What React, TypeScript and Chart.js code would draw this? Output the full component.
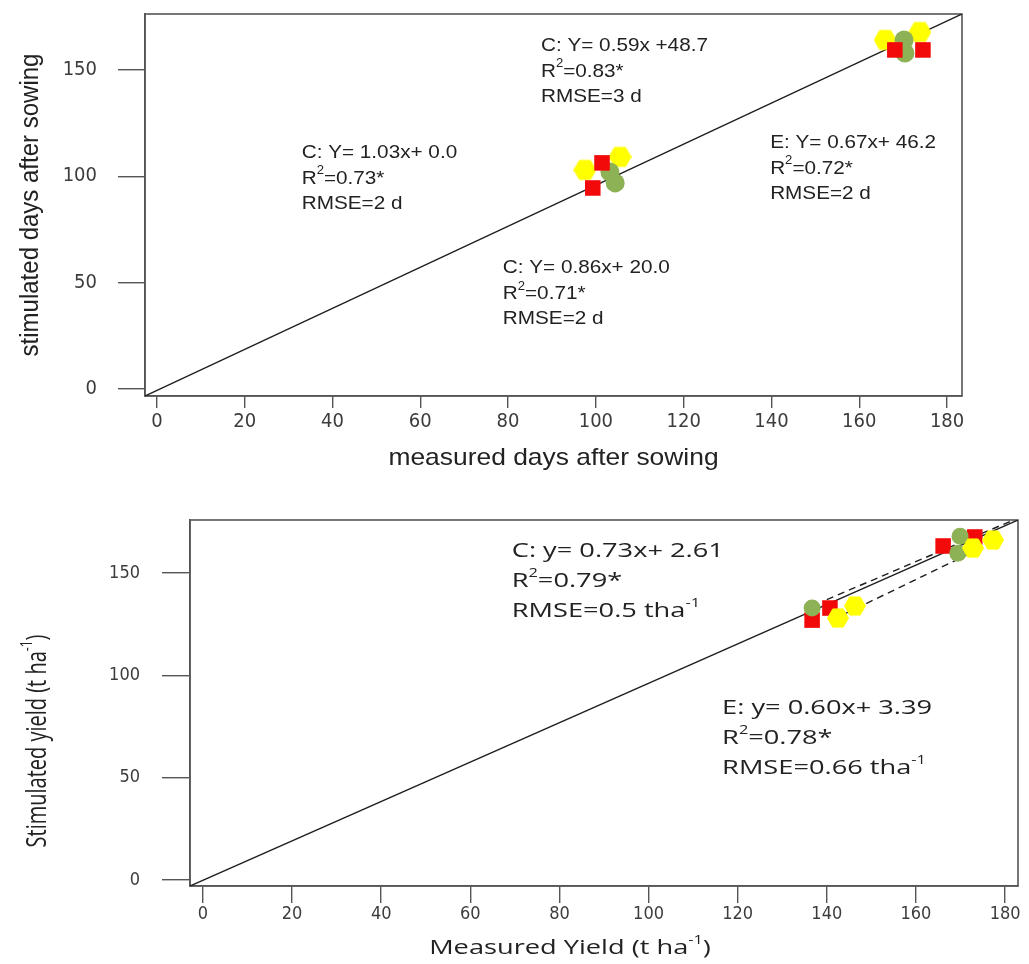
import React, { useEffect, useRef } from "react";
import { Chart, registerables } from "chart.js";

Chart.register(...registerables);

// ================= Panel A: phenology (days after sowing) =================
const daysTicksX = [0, 20, 40, 60, 80, 100, 120, 140, 160, 180];
const daysTicksY = [0, 50, 100, 150];
const daysXLimits = [-2.7, 183.4];
const daysYLimits = [-3.3, 176.3];
const daysRedX = [101.4, 99.3, 168.1, 174.5];
const daysRedY = [106.3, 94.5, 159.4, 159.4];
const daysGreenX = [103.2, 104.4, 170.2, 170.4];
const daysGreenY = [102.0, 96.9, 164.1, 158.0];
const daysYellowX = [97.5, 105.5, 165.9, 173.8];
const daysYellowY = [103.0, 109.1, 164.1, 167.8];
const daysLineX = [-2.7, 183.4];
const daysLineY = [-3.3, 176.3];
const daysNoteX = [87.5, 33.0, 139.7, 78.8];
const daysNoteY = [161.3, 111.0, 115.7, 56.9];
const daysNotes = [
  ["C: Y= 0.59x +48.7", "R^{2}=0.83*", "RMSE=3 d"],
  ["C: Y= 1.03x+ 0.0", "R^{2}=0.73*", "RMSE=2 d"],
  ["E: Y= 0.67x+ 46.2", "R^{2}=0.72*", "RMSE=2 d"],
  ["C: Y= 0.86x+ 20.0", "R^{2}=0.71*", "RMSE=2 d"],
];
const daysXTitle = "measured days after sowing";
const daysYTitle = "stimulated days after sowing";

// ================= Panel B: yield =================
const yieldTicksX = [0, 20, 40, 60, 80, 100, 120, 140, 160, 180];
const yieldTicksY = [0, 50, 100, 150];
const yieldXLimits = [-2.9, 182.9];
const yieldYLimits = [-2.9, 175.9];
const yieldRedX = [136.7, 140.7, 166.1, 173.2];
const yieldRedY = [127.0, 132.9, 163.2, 167.6];
const yieldGreenX = [136.7, 169.9, 169.4];
const yieldGreenY = [132.9, 168.0, 159.7];
const yieldYellowX = [142.5, 146.3, 172.8, 177.3];
const yieldYellowY = [128.0, 133.9, 162.2, 166.1];
const yieldLineX = [-2.9, 182.9];
const yieldLineY = [-2.9, 175.9];
const yieldDashUpperX = [140, 182];
const yieldDashUpperY = [137, 176];
const yieldDashLowerX = [144, 173];
const yieldDashLowerY = [130, 160.5];
const yieldNoteX = [69.3, 116.5];
const yieldNoteY = [160.7, 84.0];
const yieldNotes = [
  ["C: y= 0.73x+ 2.61", "R^{2}=0.79*", "RMSE=0.5 tha^{-1}"],
  ["E: y= 0.60x+ 3.39", "R^{2}=0.78*", "RMSE=0.66 tha^{-1}"],
];
const yieldXTitle = "Measured Yield (t ha^{-1})";
const yieldYTitle = "Stimulated yield (t ha^{-1})";

// ================= helpers =================
const RED = "#f20a0a";
const GREEN = "#8db256";
const YELLOW = "#ffff00";
const AXIS = "#555555";
const NARROW = "'Liberation Sans Narrow', 'DejaVu Sans Condensed', 'Liberation Sans', sans-serif";

type Seg = { t: string; sup: boolean };
function parseRich(s: string): Seg[] {
  const out: Seg[] = [];
  const re = /\^\{([^}]*)\}/g;
  let last = 0;
  let m: RegExpExecArray | null;
  while ((m = re.exec(s))) {
    if (m.index > last) out.push({ t: s.slice(last, m.index), sup: false });
    out.push({ t: m[1], sup: true });
    last = re.lastIndex;
  }
  if (last < s.length) out.push({ t: s.slice(last), sup: false });
  return out;
}

function drawRich(
  ctx: CanvasRenderingContext2D,
  text: string,
  x: number,
  y: number,
  family: string,
  size: number,
  stretch: number,
  align: "left" | "center",
  rotate: boolean,
  color: string
) {
  const segs = parseRich(text);
  const supSize = Math.round(size * 0.62);
  const fontOf = (s: Seg) => `${s.sup ? supSize : size}px ${family}`;
  let w = 0;
  for (const s of segs) {
    ctx.font = fontOf(s);
    w += ctx.measureText(s.t).width;
  }
  ctx.save();
  ctx.translate(x, y);
  if (rotate) {
    ctx.rotate(-Math.PI / 2);
    ctx.scale(1, stretch);
  } else {
    ctx.scale(stretch, 1);
  }
  ctx.fillStyle = color;
  ctx.textBaseline = "middle";
  ctx.textAlign = "left";
  let cx = align === "center" ? -w / 2 : 0;
  for (const s of segs) {
    ctx.font = fontOf(s);
    ctx.fillText(s.t, cx, s.sup ? -size * 0.38 : 0);
    cx += ctx.measureText(s.t).width;
  }
  ctx.restore();
}

function hexagon(size: number, color: string) {
  const c = document.createElement("canvas");
  c.width = size;
  c.height = size;
  const g = c.getContext("2d")!;
  const r = size / 2 - 0.5;
  g.beginPath();
  for (let i = 0; i < 6; i++) {
    const a = (Math.PI / 3) * i;
    const px = size / 2 + r * Math.cos(a);
    const py = size / 2 + r * Math.sin(a);
    if (i === 0) g.moveTo(px, py);
    else g.lineTo(px, py);
  }
  g.closePath();
  g.fillStyle = color;
  g.fill();
  g.lineJoin = "round";
  g.lineWidth = 1;
  g.strokeStyle = color;
  g.stroke();
  return c;
}

const pts = (xs: number[], ys: number[]) => xs.map((x, i) => ({ x, y: ys[i] }));

type Spec = {
  top: number;
  width: number;
  height: number;
  padTop: number;
  padRight: number;
  yAxisWidth: number;
  xAxisHeight: number;
  xLim: number[];
  yLim: number[];
  xTicks: number[];
  yTicks: number[];
  line: { x: number[]; y: number[] };
  dashed: { x: number[]; y: number[] }[];
  red: { x: number[]; y: number[] };
  green: { x: number[]; y: number[] };
  yellow: { x: number[]; y: number[] };
  redR: number;
  greenR: number;
  yellowSize: number;
  order: { red: number; green: number; yellow: number };
  tickSize: number;
  xTickLen: number;
  yTickLen: number;
  xTickPad: number;
  yTickPad: number;
  notes: { x: number[]; y: number[]; lines: string[][] };
  noteFamily: string;
  noteSize: number;
  noteStretch: number;
  noteGap: number;
  xTitle: string;
  yTitle: string;
  titleFamily: string;
  titleSize: number;
  titleStretch: number;
  xTitleDx: number;
  xTitleY: number;
  yTitleX: number;
  yTitleDy: number;
};

const daysSpec: Spec = {
  top: 0,
  width: 1029,
  height: 480,
  padTop: 14,
  padRight: 67,
  yAxisWidth: 145,
  xAxisHeight: 84,
  xLim: daysXLimits,
  yLim: daysYLimits,
  xTicks: daysTicksX,
  yTicks: daysTicksY,
  line: { x: daysLineX, y: daysLineY },
  dashed: [],
  red: { x: daysRedX, y: daysRedY },
  green: { x: daysGreenX, y: daysGreenY },
  yellow: { x: daysYellowX, y: daysYellowY },
  redR: 11,
  greenR: 9.5,
  yellowSize: 23,
  order: { red: 1, green: 2, yellow: 3 },
  tickSize: 20,
  xTickLen: 12,
  yTickLen: 27,
  xTickPad: 2,
  yTickPad: 21,
  notes: { x: daysNoteX, y: daysNoteY, lines: daysNotes },
  noteFamily: "'Liberation Sans', Arial, sans-serif",
  noteSize: 19,
  noteStretch: 1.09,
  noteGap: 25.5,
  xTitle: daysXTitle,
  yTitle: daysYTitle,
  titleFamily: "'Liberation Sans', Arial, sans-serif",
  titleSize: 24,
  titleStretch: 1.1,
  xTitleDx: 0,
  xTitleY: 458,
  yTitleX: 31,
  yTitleDy: 0,
};

const yieldSpec: Spec = {
  top: 480,
  width: 1029,
  height: 484,
  padTop: 40,
  padRight: 11,
  yAxisWidth: 190,
  xAxisHeight: 78,
  xLim: yieldXLimits,
  yLim: yieldYLimits,
  xTicks: yieldTicksX,
  yTicks: yieldTicksY,
  line: { x: yieldLineX, y: yieldLineY },
  dashed: [
    { x: yieldDashUpperX, y: yieldDashUpperY },
    { x: yieldDashLowerX, y: yieldDashLowerY },
  ],
  red: { x: yieldRedX, y: yieldRedY },
  green: { x: yieldGreenX, y: yieldGreenY },
  yellow: { x: yieldYellowX, y: yieldYellowY },
  redR: 11,
  greenR: 8.5,
  yellowSize: 22,
  order: { red: 3, green: 2, yellow: 1 },
  tickSize: 18,
  xTickLen: 17,
  yTickLen: 28,
  xTickPad: 1,
  yTickPad: 22,
  notes: { x: yieldNoteX, y: yieldNoteY, lines: yieldNotes },
  noteFamily: "'Open Sans', 'Noto Sans', sans-serif",
  noteSize: 20,
  noteStretch: 1.36,
  noteGap: 30,
  xTitle: yieldXTitle,
  yTitle: yieldYTitle,
  titleFamily: "'Open Sans', 'Noto Sans', sans-serif",
  titleSize: 20,
  titleStretch: 1.36,
  xTitleDx: -34,
  xTitleY: 468,
  yTitleX: 38,
  yTitleDy: 38,
};

function Panel({ spec }: { spec: Spec }) {
  const ref = useRef<HTMLCanvasElement | null>(null);
  useEffect(() => {
    const canvas = ref.current;
    if (!canvas) return;
    const decor = {
      id: "decor",
      beforeDatasetsDraw(chart: any) {
        const { ctx, chartArea } = chart;
        ctx.save();
        ctx.strokeStyle = AXIS;
        ctx.lineWidth = 1.6;
        ctx.strokeRect(chartArea.left, chartArea.top, chartArea.right - chartArea.left, chartArea.bottom - chartArea.top);
        ctx.restore();
      },
      afterDraw(chart: any) {
        const { ctx, chartArea, scales } = chart;
        const xs = scales.x;
        const ys = scales.y;
        spec.notes.lines.forEach((block, i) => {
          const px = xs.getPixelForValue(spec.notes.x[i]);
          const py = ys.getPixelForValue(spec.notes.y[i]);
          block.forEach((line, j) => {
            drawRich(ctx, line, px, py + j * spec.noteGap, spec.noteFamily, spec.noteSize, spec.noteStretch, "left", false, "#222");
          });
        });
        const cx = (chartArea.left + chartArea.right) / 2 + spec.xTitleDx;
        drawRich(ctx, spec.xTitle, cx, spec.xTitleY, spec.titleFamily, spec.titleSize, spec.titleStretch, "center", false, "#222");
        const cy = (chartArea.top + chartArea.bottom) / 2 + spec.yTitleDy;
        drawRich(ctx, spec.yTitle, spec.yTitleX, cy, spec.titleFamily, spec.titleSize, spec.titleStretch, "center", true, "#222");
      },
    };
    const lineSet = (x: number[], y: number[], dash: number[], order: number) => ({
      data: pts(x, y),
      showLine: true,
      borderColor: "#1e1e1e",
      borderWidth: 1.4,
      borderDash: dash,
      pointRadius: 0,
      fill: false,
      tension: 0,
      order,
    });
    const chart = new Chart(canvas, {
      type: "scatter",
      data: {
        datasets: [
          lineSet(spec.line.x, spec.line.y, [], 10),
          ...spec.dashed.map((d) => lineSet(d.x, d.y, [7, 5], 9)),
          {
            data: pts(spec.yellow.x, spec.yellow.y),
            pointStyle: hexagon(spec.yellowSize, YELLOW),
            pointRadius: spec.yellowSize / 2,
            backgroundColor: YELLOW,
            borderColor: YELLOW,
            pointBorderWidth: 0,
            order: spec.order.yellow,
          },
          {
            data: pts(spec.green.x, spec.green.y),
            pointStyle: "circle",
            pointRadius: spec.greenR,
            backgroundColor: GREEN,
            borderColor: GREEN,
            pointBorderWidth: 0,
            order: spec.order.green,
          },
          {
            data: pts(spec.red.x, spec.red.y),
            pointStyle: "rect",
            pointRadius: spec.redR,
            backgroundColor: RED,
            borderColor: RED,
            pointBorderWidth: 0,
            order: spec.order.red,
          },
        ] as any,
      },
      options: {
        animation: false,
        responsive: false,
        events: [],
        layout: { padding: { top: spec.padTop, right: spec.padRight, left: 0, bottom: 0 } },
        plugins: { legend: { display: false }, tooltip: { enabled: false }, title: { display: false } },
        scales: {
          x: {
            type: "linear",
            min: spec.xLim[0],
            max: spec.xLim[1],
            afterBuildTicks: (s: any) => {
              s.ticks = spec.xTicks.map((v) => ({ value: v }));
            },
            afterFit: (s: any) => {
              s.height = spec.xAxisHeight;
              s.paddingLeft = 0;
              s.paddingRight = 0;
            },
            grid: { display: true, drawOnChartArea: false, drawTicks: true, tickLength: spec.xTickLen, color: AXIS, lineWidth: 1.4 },
            border: { display: true, color: AXIS, width: 1.6 },
            ticks: { font: { family: NARROW, size: spec.tickSize }, color: "#3c3c3c", padding: spec.xTickPad, maxRotation: 0, autoSkip: false },
            title: { display: false },
          },
          y: {
            type: "linear",
            min: spec.yLim[0],
            max: spec.yLim[1],
            afterBuildTicks: (s: any) => {
              s.ticks = spec.yTicks.map((v) => ({ value: v }));
            },
            afterFit: (s: any) => {
              s.width = spec.yAxisWidth;
              s.paddingTop = 0;
              s.paddingBottom = 0;
            },
            grid: { display: true, drawOnChartArea: false, drawTicks: true, tickLength: spec.yTickLen, color: AXIS, lineWidth: 1.4 },
            border: { display: true, color: AXIS, width: 1.6 },
            ticks: { font: { family: NARROW, size: spec.tickSize }, color: "#3c3c3c", padding: spec.yTickPad, autoSkip: false },
            title: { display: false },
          },
        },
      } as any,
      plugins: [decor],
    });
    return () => chart.destroy();
  }, [spec]);
  return (
    <canvas
      ref={ref}
      width={spec.width}
      height={spec.height}
      style={{ position: "absolute", left: 0, top: spec.top, width: spec.width, height: spec.height }}
    />
  );
}

export default function App() {
  return (
    <div style={{ position: "absolute", left: 0, top: 0, width: 1029, height: 964, background: "#ffffff" }}>
      <Panel spec={daysSpec} />
      <Panel spec={yieldSpec} />
    </div>
  );
}
